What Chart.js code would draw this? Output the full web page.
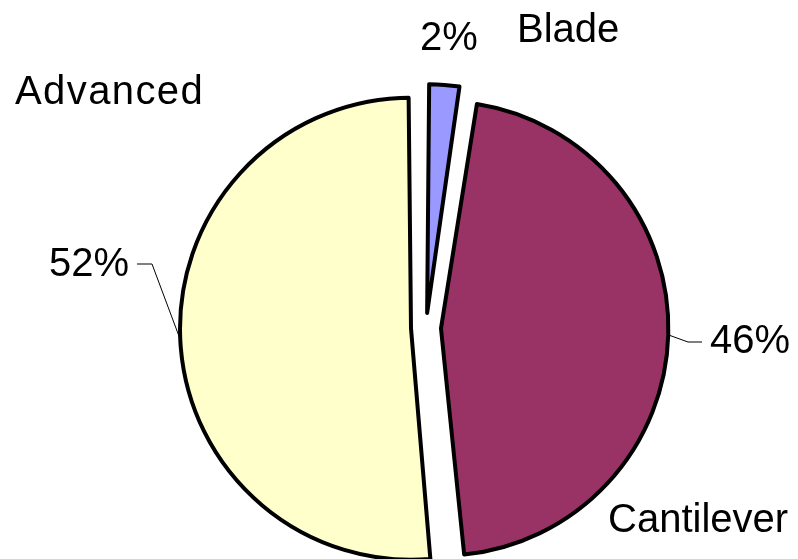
<!DOCTYPE html>
<html>
<head>
<meta charset="utf-8">
<script src="https://cdn.jsdelivr.net/npm/chart.js@4"></script>
<style>
  html, body { margin: 0; padding: 0; background: #fff; }
</style>
</head>
<body>
<canvas id="pieChart" width="798" height="559"></canvas>
<script>
const categories = ['Blade', 'Cantilever', 'Advanced'];
const shares = [2.4, 46.1, 51.5];
const colors = ['#9999FF', '#993366', '#FFFFCC'];

// label placement (left x, baseline y) for names and percentages
const nameSpots = [[517, 42], [608, 532], [15, 104]];
const nameSpacing = [0, 0, 1.4];
const pctSpots = [[420, 50], [710, 353], [49, 276]];
// leader line elbow points, Blade has none
const leaders = [null, [[688, 342], [702, 342]], [[152, 264], [137, 264]]];

const pieLabels = {
  id: 'pieLabels',
  afterDatasetsDraw(chart) {
    const ctx = chart.ctx;
    const meta = chart.getDatasetMeta(0);
    const total = shares.reduce((a, b) => a + b, 0);
    ctx.save();
    ctx.font = '40px "Liberation Sans", Arial, sans-serif';
    ctx.fillStyle = '#000';
    ctx.textBaseline = 'alphabetic';
    ctx.textAlign = 'left';
    meta.data.forEach((arc, i) => {
      const p = arc.getProps(['x', 'y', 'startAngle', 'endAngle', 'outerRadius'], true);
      const mid = (p.startAngle + p.endAngle) / 2;
      const o = (arc.options.offset || 0) / 4;
      const fix = 1 - Math.sin(Math.min(Math.PI, p.endAngle - p.startAngle));
      const r = p.outerRadius + o * fix;
      const cx = p.x + Math.cos(mid) * o;
      const cy = p.y + Math.sin(mid) * o;

      if (leaders[i]) {
        ctx.beginPath();
        ctx.lineWidth = 1;
        ctx.strokeStyle = '#000';
        ctx.moveTo(cx + Math.cos(mid) * r, cy + Math.sin(mid) * r);
        leaders[i].forEach(pt => ctx.lineTo(pt[0], pt[1]));
        ctx.stroke();
      }

      ctx.letterSpacing = nameSpacing[i] + 'px';
      ctx.fillText(categories[i], nameSpots[i][0], nameSpots[i][1]);
      ctx.letterSpacing = '0px';
      ctx.fillText(Math.round(shares[i] / total * 100) + '%', pctSpots[i][0], pctSpots[i][1]);
    });
    ctx.restore();
  }
};

new Chart(document.getElementById('pieChart'), {
  type: 'pie',
  data: {
    labels: categories,
    datasets: [{
      data: shares,
      backgroundColor: colors,
      borderColor: '#000',
      borderWidth: 4,
      borderJoinStyle: 'round',
      offset: 60,
      radius: 216
    }]
  },
  options: {
    responsive: false,
    animation: false,
    layout: { padding: { left: 54, right: 0, top: 97, bottom: 0 } },
    plugins: {
      legend: { display: false },
      tooltip: { enabled: false }
    }
  },
  plugins: [pieLabels]
});
</script>
</body>
</html>
